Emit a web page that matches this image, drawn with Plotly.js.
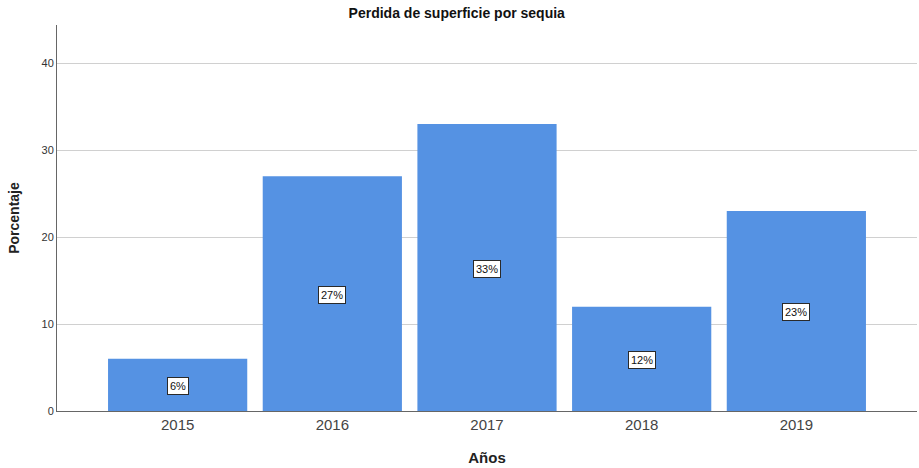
<!DOCTYPE html>
<html><head><meta charset="utf-8">
<script src="https://cdn.plot.ly/plotly-3.0.1.min.js"></script>
<style>body{margin:0;padding:0;background:#fff}#chart{width:919px;height:468px}</style>
</head><body><div id="chart"></div>
<script>
const years = ['2015','2016','2017','2018','2019'];
const values = [6, 27, 33, 12, 23];
const labels = ['6%','27%','33%','12%','23%'];

const annotations = years.map((y, i) => ({
  xref: 'x', yref: 'y', x: i, y: values[i] / 2, yshift: -1, text: labels[i], showarrow: false,
  bgcolor: '#ffffff', bordercolor: '#2a2a2a', borderwidth: 1, borderpad: 2,
  font: {family: 'Liberation Sans, Arial, sans-serif', size: 11, color: '#111'}
}));

Plotly.newPlot('chart', [{
  type: 'bar', x: years, y: values, width: 0.9,
  marker: {color: '#5592E3', line: {width: 0}},
  hoverinfo: 'none'
}], {
  width: 919, height: 468,
  margin: {l: 57, r: 2, t: 25, b: 57},
  paper_bgcolor: '#fff', plot_bgcolor: '#fff',
  title: {text: '<b>Perdida de superficie por sequia</b>', x: 0.497, xanchor: 'center', y: 0.972, yanchor: 'middle',
    font: {family: 'Liberation Sans, Arial, sans-serif', size: 14, color: '#111'}},
  xaxis: {type: 'category', range: [-0.78, 4.78], showgrid: false, showline: true, linecolor: '#666', linewidth: 1,
    ticks: '', tickfont: {family: 'Liberation Sans, Arial, sans-serif', size: 15, color: '#444'},
    title: {text: '<b>Años</b>', standoff: 20, font: {family: 'Liberation Sans, Arial, sans-serif', size: 15, color: '#222'}}},
  yaxis: {range: [0, 44.4], tickvals: [0,10,20,30,40], showgrid: true, gridcolor: '#d0d0d0', gridwidth: 1,
    showline: true, linecolor: '#666', linewidth: 1, zeroline: false, ticks: '',
    tickfont: {family: 'Liberation Sans, Arial, sans-serif', size: 11, color: '#333'},
    title: {text: '<b>Porcentaje</b>', standoff: 18, font: {family: 'Liberation Sans, Arial, sans-serif', size: 14, color: '#222'}}},
  annotations: annotations,
  bargap: 0.1, showlegend: false
}, {displayModeBar: false, staticPlot: true});
</script></body></html>
